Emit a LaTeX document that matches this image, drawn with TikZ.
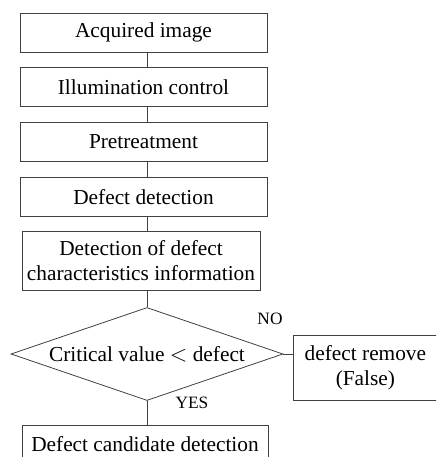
\documentclass[tikz,border=0pt]{standalone}
\usepackage{fontspec}
\setmainfont{Liberation Serif}
\usetikzlibrary{shapes.geometric,positioning}

\begin{document}
\begin{tikzpicture}[x=0.75pt,y=-0.75pt,line width=0.6pt,
                    every node/.style={font=\fontsize{16}{19}\selectfont}]
  \tikzstyle{stepbox}=[draw=black!75,rectangle,inner sep=0pt,
                       minimum width=185.25pt,minimum height=29.25pt,align=center]
  \tikzstyle{test}=[draw=black!75,diamond,inner sep=0pt,aspect=2.92,
                    minimum width=204pt,minimum height=69.75pt]
  \tikzstyle{answer}=[font=\fontsize{13}{15}\selectfont,inner sep=0pt]

  \clip (0,0) rectangle (436,457);

  % main column
  \node[stepbox] (acq)  at (143.5,32.5)  {Acquired image};
  \node[stepbox] (ill)  at (143.5,87)    {Illumination control};
  \node[stepbox] (pre)  at (143.5,142)   {Pretreatment};
  \node[stepbox] (det)  at (143.5,197)   {Defect detection};
  \node[stepbox,minimum width=178.5pt,minimum height=44.25pt]
                 (info) at (141,260.5)   {Detection of defect\\characteristics information};
  \node[test]    (crit) at (147,354)     {Critical value $<$ defect};
  \node[stepbox,minimum width=184.5pt,minimum height=28.5pt]
                 (cand) at (145,444)     {Defect candidate detection};

  % side branch
  \node[stepbox,minimum width=108pt,minimum height=48.75pt,
        anchor=west] (rem) at (293,367.5) {defect remove\\(False)};

  \coordinate (axis) at (147,0);

  \path[draw=black!75]
        (acq.south -| axis)  -- (ill.north -| axis)
        (ill.south -| axis)  -- (pre.north -| axis)
        (pre.south -| axis)  -- (det.north -| axis)
        (det.south -| axis)  -- (info.north -| axis)
        (info.south -| axis) -- (crit.north)
        (crit.south)         -- (cand.north -| crit.south)
        (crit.east)          -- (rem.west |- crit.east);

  \node[answer] (no)  at (270,319) {NO};
  \node[answer] (yes) at (192,403) {YES};
\end{tikzpicture}
\end{document}
